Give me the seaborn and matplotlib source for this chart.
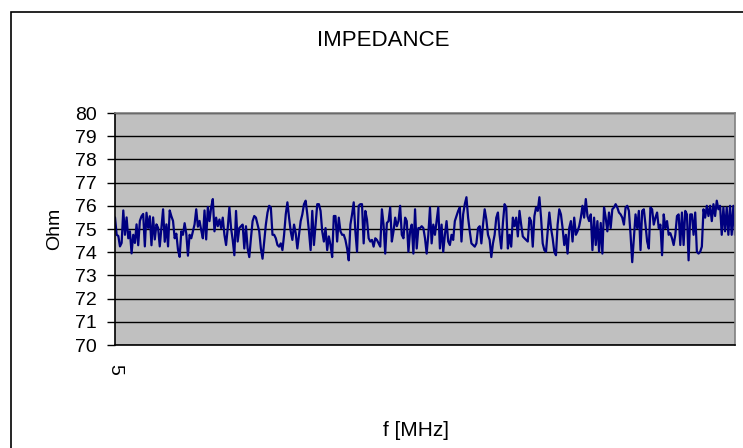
import numpy as np
import pandas as pd
import matplotlib
matplotlib.use("Agg")
import matplotlib.pyplot as plt
import seaborn as sns
from matplotlib.patches import Rectangle

# impedance readings (Ohm) left to right
ohm_part1 = [75.5, 74.75, 74.7, 74.25, 74.4, 75.8, 74.75, 75.5, 74.6, 74.9, 73.95, 74.75, 74.4, 75.2,
             74.3, 75.35, 75.55, 75.65, 74.25, 75.7, 75.05, 75.55, 74.3, 75.5, 74.55, 75.2, 75.05, 74.25,
             75.05, 75.85, 74.45, 75.2, 74.25, 75.8, 75.55, 75.35, 74.6, 74.8, 74.1, 73.8, 74.9, 74.75,
             75.25, 74.8, 73.85, 74.75, 74.6, 74.9, 75.2, 75.85, 75.1, 75.35, 74.95, 74.6, 75.8, 74.55, 75.95]
ohm_part2 = [75.34, 75.93, 76.29, 74.9, 75.49, 75.12, 75.41, 75.04, 75.49, 74.75, 74.31, 75.04, 75.93,
             75.04, 74.53, 73.87, 75.78, 74.46, 75.04, 75.12, 75.19, 74.16, 75.12, 74.16, 73.79, 74.6,
             75.34, 75.56, 75.49, 75.19, 74.9, 74.16, 73.72, 74.46, 75.19, 75.71, 76.0, 75.93, 74.75,
             74.75, 74.6, 74.31, 74.24, 74.38, 74.09, 74.75, 75.63, 76.15, 75.49, 74.9, 74.53, 75.19,
             74.82, 74.16, 74.75, 75.34, 75.63, 76.07, 76.22, 75.63, 74.9, 74.09, 75.78]
ohm_part3 = [74.31, 75.19, 76.07, 76.07, 75.78, 74.9, 74.46, 75.04, 74.09, 74.68, 74.31, 73.79, 75.56,
             75.56, 74.46, 75.49, 74.9, 74.75, 74.75, 74.53, 74.16, 73.65, 75.19, 75.63, 76.15, 74.9,
             74.02, 76.0, 76.07, 76.07, 74.38, 75.78, 75.41, 74.6, 74.46, 74.53, 74.24, 74.6, 74.53,
             74.38, 74.24, 75.85, 75.19, 73.94, 75.26, 75.34, 75.93, 74.46, 74.9, 75.49, 75.12, 75.34,
             76.0, 74.75, 74.6, 75.49, 75.34, 74.02, 74.9, 75.19, 73.94, 75.85]
ohm_part4 = [74.16, 75.04, 75.04, 75.12, 75.04, 74.6, 73.94, 74.75, 75.93, 74.38, 75.19, 74.75, 75.34,
             75.93, 74.16, 75.19, 74.02, 74.75, 75.34, 74.46, 74.31, 74.75, 74.53, 75.34, 75.56, 75.78,
             75.93, 74.46, 75.63, 76.07, 76.37, 75.49, 74.9, 74.38, 74.31, 74.24, 74.38, 75.04, 75.12,
             74.38, 75.19, 75.85, 75.41, 74.75, 74.53, 73.79, 74.38, 74.75, 75.49, 75.71, 74.75, 74.16,
             75.26, 76.07, 75.93, 74.16, 74.75, 74.24, 75.49, 75.12, 75.49, 74.68, 75.78]
ohm_part5 = [75.19, 74.68, 74.6, 74.53, 74.46, 75.49, 75.34, 74.24, 75.56, 75.93, 75.78, 76.37, 75.49,
             74.38, 74.09, 74.02, 74.9, 75.71, 75.04, 74.6, 74.02, 73.87, 75.19, 75.85, 75.63, 75.04,
             74.31, 74.75, 73.94, 75.04, 75.34, 74.46, 75.49, 74.75, 74.9, 75.12, 75.49, 76.0, 75.49,
             76.29, 75.56, 75.34, 75.63, 74.09, 75.49, 74.31, 75.34, 74.02, 75.26, 73.94, 75.93, 75.49,
             74.9, 75.71, 75.04, 75.85, 75.93, 76.07, 75.93, 75.71, 75.63, 75.49, 75.19]
ohm_part6 = [75.93, 76.0, 75.78, 74.75, 73.57, 74.6, 75.63, 75.04, 75.78, 74.09, 75.78, 75.85, 75.19,
             74.46, 74.16, 75.93, 75.85, 75.19, 75.49, 75.71, 75.04, 75.19, 73.87, 75.63, 75.04, 75.34,
             74.75, 74.82, 74.6, 74.31, 74.75, 75.56, 75.63, 74.31, 75.71, 74.31, 75.78, 75.63, 73.65,
             75.63, 75.63, 74.75, 75.71, 74.02, 73.94, 74.02, 74.24, 75.85, 75.49, 76.0, 75.56, 76.0,
             75.34, 76.07, 75.56, 76.22, 75.85, 76.0, 74.75, 75.93, 74.9, 75.93, 74.75, 76.0, 74.75,
             76.0, 74.75]

impedance = ohm_part1 + ohm_part2 + ohm_part3 + ohm_part4 + ohm_part5 + ohm_part6
y_ticks = list(range(70, 81))
x_tick_label = "5"

df = pd.DataFrame({"idx": np.arange(len(impedance)), "ohm": impedance})

sns.set_style("white")
plt.rcParams["font.family"] = ["Liberation Sans", "DejaVu Sans"]
plt.rcParams["text.color"] = "black"
plt.rcParams["xtick.color"] = "black"
plt.rcParams["ytick.color"] = "black"

fig = plt.figure(figsize=(7.43, 4.48), dpi=100)
fig.patches.append(Rectangle((11 / 743, -0.1), 1.2, 1.1 - 12 / 448, transform=fig.transFigure,
                             fill=False, edgecolor="black", linewidth=1.2))

ax = fig.add_axes([115 / 743, 1 - 345 / 448, 620 / 743, 232 / 448])
ax.set_facecolor("#C0C0C0")

sns.lineplot(data=df, x="idx", y="ohm", ax=ax, color="#000080", linewidth=1.6)

ax.set_xlim(0, len(impedance) - 1)
ax.set_ylim(70, 80)
ax.set_yticks(y_ticks)
ax.set_yticklabels([str(t) for t in y_ticks], fontsize=14)
ax.set_xticks([0])
ax.set_xticklabels([x_tick_label], fontsize=14, rotation=-90)
ax.tick_params(axis="x", length=0, pad=14)
ax.tick_params(axis="y", length=6, width=1, direction="out", pad=7, left=True)
ax.yaxis.grid(True, color="black", linewidth=1)
ax.set_axisbelow(True)
ax.set_xlabel("")
ax.set_ylabel("")

for side in ["top", "right"]:
    ax.spines[side].set_color("#808080")
    ax.spines[side].set_linewidth(1.2)
for side in ["left", "bottom"]:
    ax.spines[side].set_color("black")
    ax.spines[side].set_linewidth(1.2)

fig.text(383 / 743, 1 - 40 / 448, "IMPEDANCE", ha="center", va="center", fontsize=16)
fig.text(55 / 743, 1 - 229 / 448, "Ohm", ha="center", va="center", rotation=90, fontsize=14)
fig.text(416 / 743, 1 - 430 / 448, "f [MHz]", ha="center", va="center", fontsize=15)

fig.savefig("out.png", dpi=100)
